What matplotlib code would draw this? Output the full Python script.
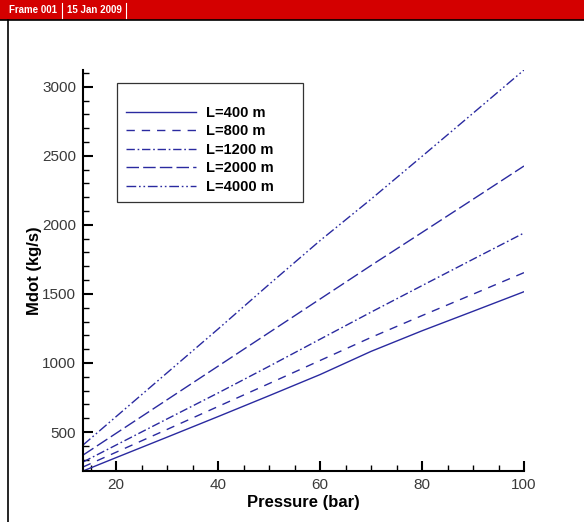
import matplotlib
matplotlib.use("Agg")
from matplotlib import pyplot as plt
from matplotlib.ticker import MultipleLocator
from matplotlib.patches import Rectangle
from matplotlib.lines import Line2D

# pressure (bar) and mass flow (kg/s) for each pipe length
pressure = [13.5, 20, 30, 40, 50, 60, 70, 80, 90, 100]
mdot_400 = [218, 315, 463, 612, 763, 916, 1084, 1233, 1374, 1516]
mdot_800 = [247, 354, 519, 685, 851, 1018, 1185, 1343, 1498, 1654]
mdot_1200 = [283, 406, 595, 783, 976, 1172, 1368, 1560, 1751, 1941]
mdot_2000 = [333, 491, 734, 977, 1220, 1463, 1706, 1945, 2185, 2426]
mdot_4000 = [406, 612, 929, 1246, 1569, 1886, 2186, 2496, 2808, 3121]
labels = ["L=400 m", "L=800 m", "L=1200 m", "L=2000 m", "L=4000 m"]

plt.rcParams['font.family'] = ['Liberation Sans', 'DejaVu Sans']

fig = plt.figure(figsize=(5.84, 5.22), dpi=100)

# tecplot style frame header
fig.patches.append(Rectangle((0, 1 - 20 / 522), 1, 20 / 522, transform=fig.transFigure,
                             facecolor='#d40000', edgecolor='none', zorder=0))
fig.lines.append(Line2D([0, 1], [1 - 20 / 522, 1 - 20 / 522], transform=fig.transFigure,
                        color='black', lw=1.2))
fig.lines.append(Line2D([7.5 / 584, 7.5 / 584], [0, 1 - 20 / 522], transform=fig.transFigure,
                        color='black', lw=1.2))
fig.text(9 / 584, 1 - 10 / 522, "Frame 001", color='white', fontsize=7, fontweight='bold',
         va='center', ha='left', fontstretch='condensed')
fig.lines.append(Line2D([62 / 584, 62 / 584], [1 - 18 / 522, 1 - 3 / 522], transform=fig.transFigure,
                        color='white', lw=0.8))
fig.text(67 / 584, 1 - 10 / 522, "15 Jan 2009", color='white', fontsize=7, fontweight='bold',
         va='center', ha='left')
fig.lines.append(Line2D([126 / 584, 126 / 584], [1 - 18 / 522, 1 - 3 / 522], transform=fig.transFigure,
                        color='white', lw=0.8))

ax = fig.add_axes([83 / 584, 51 / 522, 441 / 584, 401 / 522])

col = '#2a2aa0'
ax.plot(pressure, mdot_400, color=col, lw=1.0, ls='-', label=labels[0])
ax.plot(pressure, mdot_800, color=col, lw=1.0, ls=(0, (6, 5)), label=labels[1])
ax.plot(pressure, mdot_1200, color=col, lw=1.0, ls=(0, (6, 2, 1.2, 2)), label=labels[2])
ax.plot(pressure, mdot_2000, color=col, lw=1.0, ls=(0, (9, 3)), label=labels[3])
ax.plot(pressure, mdot_4000, color=col, lw=1.0, ls=(0, (7, 2, 1.2, 2, 1.2, 2)), label=labels[4])

ax.set_xlim(13.5, 100)
ax.set_ylim(218, 3121)

for s in ['top', 'right']:
    ax.spines[s].set_visible(False)
for s in ['left', 'bottom']:
    ax.spines[s].set_linewidth(1.5)

ax.xaxis.set_major_locator(MultipleLocator(20))
ax.xaxis.set_minor_locator(MultipleLocator(5))
ax.yaxis.set_major_locator(MultipleLocator(500))
ax.yaxis.set_minor_locator(MultipleLocator(100))
ax.tick_params(which='major', direction='in', length=7, width=1.5, labelsize=11,
               labelcolor='#3a3a3a', pad=5)
ax.tick_params(which='minor', direction='in', length=4, width=1.0)
ax.tick_params(top=False, right=False)

ax.set_xlabel("Pressure (bar)", fontsize=12, fontweight='bold', labelpad=2)
ax.set_ylabel("Mdot (kg/s)", fontsize=12, fontweight='bold', labelpad=0)

leg_top = (471 - 83) / 401
leg = ax.legend(loc='upper left', bbox_to_anchor=(34 / 441, leg_top - 0.1, 186 / 441, 0.1),
                mode='expand', frameon=True, fancybox=False, edgecolor='black',
                handlelength=4.8, handletextpad=0.7, labelspacing=0.3, borderpad=0.6,
                borderaxespad=0, title=' ', title_fontsize=8,
                prop={'weight': 'bold', 'size': 10.5})
leg.get_frame().set_linewidth(0.9)

fig.savefig("out.png", dpi=100)
